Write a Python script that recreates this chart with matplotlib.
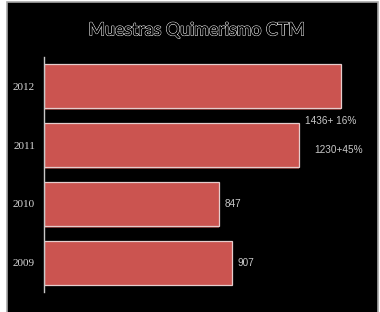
import matplotlib
matplotlib.use("Agg")
import matplotlib.pyplot as plt
import matplotlib.patheffects as pe
from matplotlib.patches import Rectangle

years = ["2009", "2010", "2011", "2012"]
values = [907, 847, 1230, 1436]
value_labels = ["907", "847", "1230+45%", "1436+ 16%"]
title = "Muestras Quimerismo CTM"

fig = plt.figure(figsize=(3.8, 3.12), dpi=100)
fig.patch.set_facecolor("white")
# black panel with thin grey frame (bottom edge runs off the figure)
fig.patches.append(Rectangle((6.5/380, -0.02), 371/380, 1.014, transform=fig.transFigure,
                             facecolor="black", edgecolor="#a8a8a8", linewidth=1.2, zorder=-10))

ax = fig.add_axes([44/380, 20/312, 328/380, 235/312])
ax.set_zorder(5)
ax.patch.set_alpha(0)

pos = list(range(len(years)))
bars = ax.barh(pos, values, height=0.75, color="#CB5450", edgecolor="#e6cccc", linewidth=0.9, zorder=2)
for b in bars:
    b.set_path_effects([pe.SimplePatchShadow(offset=(0, -1.2), shadow_rgbFace="#6a2a28", alpha=1.0), pe.Normal()])

ax.set_xlim(0, 1585)
ax.set_ylim(-0.5, 3.5)
ax.set_yticks(pos)
ax.set_yticklabels(years, family=["Liberation Serif", "DejaVu Serif"], fontsize=8, color="#d8d8d8")
ax.tick_params(axis="y", length=0, pad=6.5)
ax.set_xticks([])
for s in ["top", "right", "bottom"]:
    ax.spines[s].set_visible(False)
ax.spines["left"].set_color("#c8c8c8")
ax.spines["left"].set_linewidth(1.0)

label_font = dict(family=["Liberation Sans", "DejaVu Sans"], fontsize=7.2, color="#c8c8c8")
offsets = [(4, 0), (4, 0), (11, -3.6), (-26, -25)]
for p, v, t, off in zip(pos, values, value_labels, offsets):
    ax.annotate(t, xy=(v, p), xytext=off, textcoords="offset points",
                ha="left", va="center", **label_font)

fig.text(0.518, 0.903, title, ha="center", va="center", fontsize=12.8,
         family=["Lato", "DejaVu Sans"], color="black",
         path_effects=[pe.withStroke(linewidth=1.0, foreground="#e8e8e8"), pe.Normal()])

fig.savefig("out.png", dpi=100, facecolor=fig.get_facecolor())
